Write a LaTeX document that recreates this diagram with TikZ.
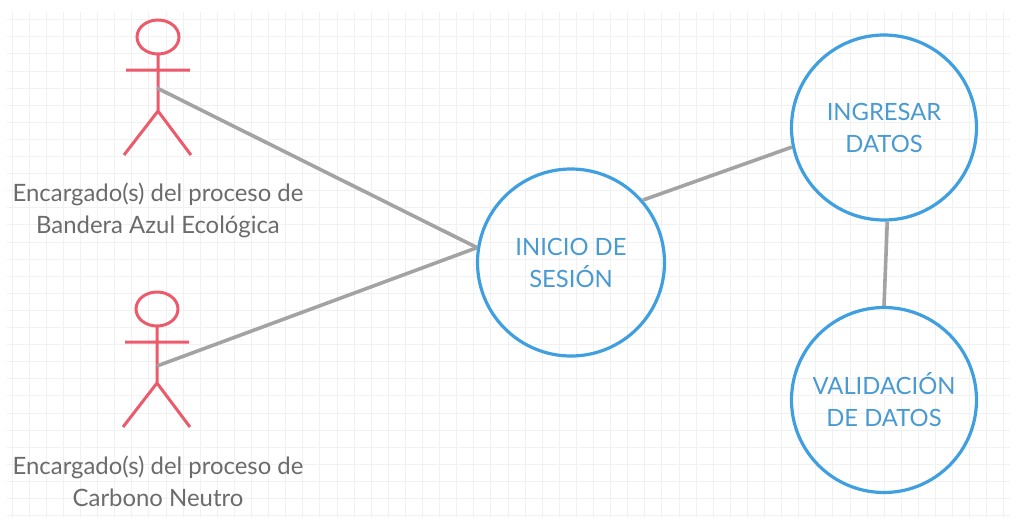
\documentclass[tikz,border=0pt]{standalone}
\usepackage{fontspec}
\setmainfont{Lato}
\usepackage{tikz}
\definecolor{actorred}{HTML}{EC5B6C}
\definecolor{caseblue}{HTML}{3F9FDF}
\definecolor{linkgray}{HTML}{A3A3A3}
\definecolor{textgray}{HTML}{6B6B6B}
\definecolor{gridgray}{HTML}{F1F1F1}
\tikzset{
    usecase/.style={circle, draw=caseblue, line width=3.2pt, minimum size=185pt, inner sep=0pt, align=center, text=caseblue!85!gray, font=\fontsize{23.8}{32}\selectfont},
    actorname/.style={align=center, text=textgray, font=\fontsize{23.9}{32}\selectfont},
    link/.style={draw=linkgray, line width=3.6pt},
    actorfig/.pic={
        \draw [actorred, line width=3pt] (0,-34) ellipse (21 and 17);
        \draw [actorred, line width=3pt] (0,-17) -- (0,40) (-32,-1) -- (32,-1) (-34,84) -- (0,40) -- (33,84);
    }
}
\begin{document}
\begin{tikzpicture}[x=1pt, y=-1pt]
    \useasboundingbox (0,0) rectangle (1013,520);
    % Grid
    \foreach \gx in {0,...,58} \draw [gridgray, line width=0.8pt] (12+17.1*\gx,12) -- (12+17.1*\gx,518);
    \foreach \gy in {0,...,29} \draw [gridgray, line width=0.8pt] (7,19.6+17.1*\gy) -- (1010,19.6+17.1*\gy);

    % Actors
    \pic at (158,71) {actorfig};
    \pic at (157,343) {actorfig};
    \coordinate (actor1) at (157,88);
    \coordinate (actor2) at (157,366);
    \node [actorname] (name1) at (158,210) {Encargado(s) del proceso de\\Bandera Azul Ecológica};
    \node [actorname] (name2) at (158,481) {Encargado(s) del proceso de\\Carbono Neutro};

    % Use cases
    \node [usecase, minimum size=187pt] (inicio) at (571,262.5) {INICIO DE\\SESIÓN};
    \node [usecase] (ingresar)   at (884,127.5) {INGRESAR\\DATOS};
    \node [usecase] (validacion) at (884,400) {VALIDACIÓN\\DE DATOS};

    % Paths
    \path [link] (actor1) -- (inicio.171);
    \path [link] (actor2) -- (inicio.171);
    \path [link] (inicio.41) -- (ingresar.192);
    \path [link] (ingresar.272) -- (validacion.north);
\end{tikzpicture}
\end{document}
